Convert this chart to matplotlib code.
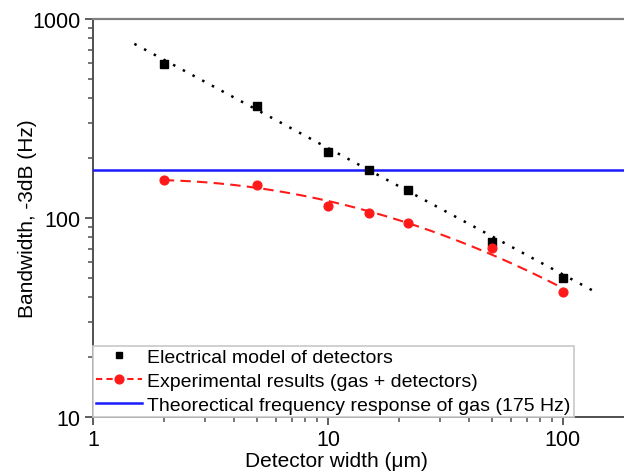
import numpy as np
import matplotlib
matplotlib.use("Agg")
import matplotlib.pyplot as plt
from matplotlib.ticker import LogLocator, NullFormatter, FixedLocator, FixedFormatter

plt.rcParams["font.family"] = ["Liberation Sans", "DejaVu Sans"]

# detector widths (um) and -3dB bandwidths (Hz)
width_model = [2, 5, 10, 15, 22, 50, 100]
bw_model = [595, 365, 215, 174, 138, 76, 50]

width_exp = [2, 5, 10, 15, 22, 50, 100]
bw_exp = [155, 147, 115, 106, 94, 71, 42.5]

# power-law trend of the electrical model (end points)
trend_x = [1.5, 140]
trend_y = [750, 42]

gas_bw = 175

fig = plt.figure(figsize=(6.24, 4.77), dpi=100)
ax = fig.add_axes([93/624, 59/477, 531/624, 398/477])
ax.set_xscale("log")
ax.set_yscale("log")
ax.set_xlim(1, 182)
ax.set_ylim(10, 1000)

ax.plot(trend_x, trend_y, color="black", lw=1.8, ls=(0, (1, 3.4)), zorder=2)
ax.plot(width_model, bw_model, ls="none", marker="s", ms=5.8, color="black", zorder=4)

# smooth quadratic (log-log) through the experimental points
lx, ly = np.log10(width_exp), np.log10(bw_exp)
coef = np.polyfit(lx, ly, 2)
xs = np.linspace(lx[0], lx[-1], 200)
ax.plot(10**xs, 10**np.polyval(coef, xs), color="#ff1a1a", lw=1.5, ls=(0, (5, 3)), zorder=3)
ax.plot(width_exp, bw_exp, ls="none", marker="o", ms=6.3, color="#ff1a1a", zorder=4)
exp_handle, = ax.plot([], [], color="#ff1a1a", lw=1.5, ls=(0, (3, 2)), marker="o", ms=6.3)
model_handle, = ax.plot([], [], ls="none", marker="s", ms=4.5, color="black")

gas_line = ax.axhline(gas_bw, color="#1a1aff", lw=1.8, zorder=3)

ax.spines["right"].set_visible(False)
ax.spines["top"].set_color("#808080")
ax.spines["top"].set_linewidth(1.6)
for side in ["left", "bottom"]:
    ax.spines[side].set_color("#505050")
    ax.spines[side].set_linewidth(1.4)

ax.xaxis.set_major_locator(FixedLocator([1, 10, 100]))
ax.xaxis.set_major_formatter(FixedFormatter(["1", "10", "100"]))
ax.yaxis.set_major_locator(FixedLocator([10, 100, 1000]))
ax.yaxis.set_major_formatter(FixedFormatter(["10", "100", "1000"]))
ax.xaxis.set_minor_locator(LogLocator(base=10, subs=np.arange(2, 10)))
ax.yaxis.set_minor_locator(LogLocator(base=10, subs=np.arange(2, 10)))
ax.xaxis.set_minor_formatter(NullFormatter())
ax.yaxis.set_minor_formatter(NullFormatter())
ax.tick_params(which="major", direction="out", length=6, width=1.3, color="#505050",
               labelsize=15.5, pad=3, top=False, right=False)
ax.tick_params(which="minor", direction="out", length=3.5, width=1.1, color="#505050",
               top=False, right=False)

ax.set_xlabel("Detector width (\u03bcm)", fontsize=15)
ax.set_ylabel("Bandwidth, -3dB (Hz)", fontsize=15)
ax.xaxis.set_label_coords((336 - 93) / 531, -0.085)
ax.yaxis.set_label_coords(-0.106, 0.5)

handles = [model_handle, exp_handle, gas_line]
labels = ["Electrical model of detectors", "Experimental results (gas + detectors)",
          "Theorectical frequency response of gas (175 Hz)"]
leg = ax.legend(handles, labels, loc="lower left", bbox_to_anchor=(0, 0), borderaxespad=0,
                fontsize=14, handlelength=2.35, handletextpad=0.3, labelspacing=0.33,
                borderpad=0.15, fancybox=False, framealpha=1, edgecolor="#c8c8c8")
leg.get_frame().set_linewidth(1.2)

fig.savefig("out.png", dpi=100)
